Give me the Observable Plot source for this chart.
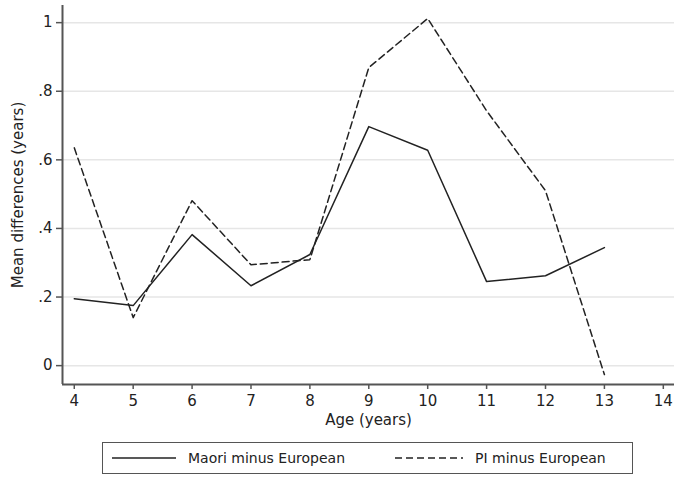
<!DOCTYPE html>
<html>
<head>
<meta charset="utf-8">
<script src="https://cdn.jsdelivr.net/npm/d3@7"></script>
<script src="https://cdn.jsdelivr.net/npm/@observablehq/plot@0.6"></script>
<style>
  html, body { margin: 0; padding: 0; background: #fff; }
  #wrap { position: relative; width: 674px; height: 479px; font-family: "DejaVu Sans", sans-serif; }
  #legend { position: absolute; left: 102px; top: 442px; width: 531px; height: 32px; border: 1.5px solid #555; box-sizing: border-box; display: flex; align-items: center; font-size: 14px; color: #222; }
  #legend .item { display: flex; align-items: center; position: absolute; }
  #legend svg { margin-right: 12px; }
</style>
</head>
<body>
<div id="wrap">
  <div id="chart"></div>
  <div id="legend"></div>
</div>
<script>
const ages = [4, 5, 6, 7, 8, 9, 10, 11, 12, 13];
const maori = [0.195, 0.175, 0.382, 0.233, 0.324, 0.697, 0.628, 0.245, 0.262, 0.344];
const pi = [0.635, 0.14, 0.481, 0.294, 0.309, 0.869, 1.012, 0.743, 0.51, -0.026];
const seriesNames = ["Maori minus European", "PI minus European"];
const xTicks = [4, 5, 6, 7, 8, 9, 10, 11, 12, 13, 14];
const yTicks = [0, 0.2, 0.4, 0.6, 0.8, 1];

const rows = [];
ages.forEach((a, i) => {
  rows.push({age: a, value: maori[i], series: seriesNames[0]});
  rows.push({age: a, value: pi[i], series: seriesNames[1]});
});

const fmt = d => d === 0 ? "0" : d === 1 ? "1" : d3.format(".1f")(d).replace(/^0/, "");

const chart = Plot.plot({
  width: 674,
  height: 432,
  marginLeft: 62,
  marginRight: 0,
  marginTop: 5,
  marginBottom: 48,
  style: {fontFamily: "DejaVu Sans, sans-serif", fontSize: "15px", color: "#222", background: "#fff"},
  x: {domain: [3.8, 14.19]},
  y: {domain: [-0.055, 1.05]},
  marks: [
    Plot.ruleY(yTicks, {stroke: "#e6e6e6", strokeWidth: 1.5}),
    Plot.axisX({ticks: xTicks, tickFormat: d => String(d), label: "Age (years)", labelAnchor: "center", labelArrow: "none", labelOffset: 40, tickSize: 5, tickPadding: 6, stroke: "#555", strokeWidth: 1.5, fontSize: 15}),
    Plot.axisY({ticks: yTicks, tickFormat: fmt, label: "Mean differences (years)", labelAnchor: "center", labelArrow: "none", labelOffset: 50, tickSize: 6, tickPadding: 4, stroke: "#555", strokeWidth: 1.5, fontSize: 15}),
    Plot.ruleX([3.8], {stroke: "#555", strokeWidth: 2}),
    Plot.ruleY([-0.055], {stroke: "#555", strokeWidth: 2}),
    Plot.line(rows.filter(d => d.series === seriesNames[0]), {x: "age", y: "value", stroke: "#222", strokeWidth: 1.5}),
    Plot.line(rows.filter(d => d.series === seriesNames[1]), {x: "age", y: "value", stroke: "#222", strokeWidth: 1.5, strokeDasharray: "7,4"})
  ]
});
document.getElementById("chart").appendChild(chart);

const legend = document.getElementById("legend");
legend.innerHTML = `
  <div class="item" style="left:9px"><svg width="64" height="4"><line x1="0" y1="2" x2="64" y2="2" stroke="#222" stroke-width="1.5"/></svg><span>${seriesNames[0]}</span></div>
  <div class="item" style="left:292px"><svg width="68" height="4"><line x1="0" y1="2" x2="68" y2="2" stroke="#222" stroke-width="1.5" stroke-dasharray="7,4"/></svg><span>${seriesNames[1]}</span></div>
`;
</script>
</body>
</html>
